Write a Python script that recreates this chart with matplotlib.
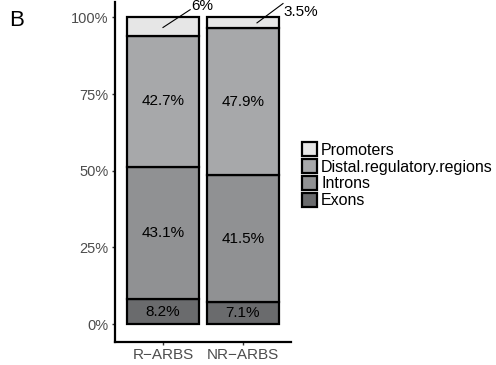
import matplotlib.pyplot as plt
import numpy as np

plt.rcParams['font.family'] = ['Liberation Sans', 'DejaVu Sans']

groups = ["R\u2212ARBS", "NR\u2212ARBS"]
categories = ["Exons", "Introns", "Distal.regulatory.regions", "Promoters"]
colors = ["#6a6b6d", "#909193", "#a7a8aa", "#e6e6e6"]
values = {
    "Exons": [8.2, 7.1],
    "Introns": [43.1, 41.5],
    "Distal.regulatory.regions": [42.7, 47.9],
    "Promoters": [6.0, 3.5],
}
yticks = [0, 25, 50, 75, 100]

fig = plt.figure(figsize=(4.96, 3.65), dpi=100)
ax = fig.add_axes([115 / 496, 1 - 342 / 365, 176 / 496, 340 / 365])

x = np.arange(1, len(groups) + 1)
bottom = np.zeros(len(groups))
handles = {}
for cat, col in zip(categories, colors):
    v = np.array(values[cat]) / 100
    bars = ax.bar(x, v, width=0.9, bottom=bottom, color=col,
                  edgecolor="black", linewidth=1.6, label=cat)
    handles[cat] = bars
    for xi, vi, bi in zip(x, v, bottom):
        if cat != "Promoters":
            ax.text(xi, bi + vi / 2, f"{vi * 100:.1f}%", ha="center",
                    va="center", fontsize=11, color="black")
    bottom += v

# callout labels for the small promoter segments
ax.plot([1.0, 1.34], [0.967, 1.025], color="black", lw=0.8, clip_on=False)
ax.text(1.35, 1.037, "6%", ha="left", va="center", fontsize=11, clip_on=False)
ax.plot([2.175, 2.5], [0.982, 1.045], color="black", lw=0.8, clip_on=False)
ax.text(2.51, 1.016, "3.5%", ha="left", va="center", fontsize=11, clip_on=False)

ax.set_xlim(0.4, 2.6)
ax.set_ylim(-0.058, 1.05)
ax.set_xticks(x)
ax.set_xticklabels(groups, fontsize=11, color="#4d4d4d")
ax.set_yticks(np.array(yticks) / 100)
ax.set_yticklabels([f"{t}%" for t in yticks], fontsize=10.5, color="#4d4d4d")
ax.tick_params(length=2.5, width=1, color="#333333", pad=2)
for s in ["top", "right"]:
    ax.spines[s].set_visible(False)
for s in ["left", "bottom"]:
    ax.spines[s].set_linewidth(1.6)

order = ["Promoters", "Distal.regulatory.regions", "Introns", "Exons"]
leg = fig.legend([handles[c] for c in order], order, loc="upper left",
                 bbox_to_anchor=(302 / 496, 1 - 142 / 365), frameon=False,
                 fontsize=11.5, handlelength=0.95, handleheight=1.0,
                 labelspacing=0.08, handletextpad=0.25, borderpad=0,
                 borderaxespad=0)

fig.text(9 / 496, 1 - 21 / 365, "B", fontsize=16, va="center", ha="left")

fig.savefig("out.png", dpi=100)
